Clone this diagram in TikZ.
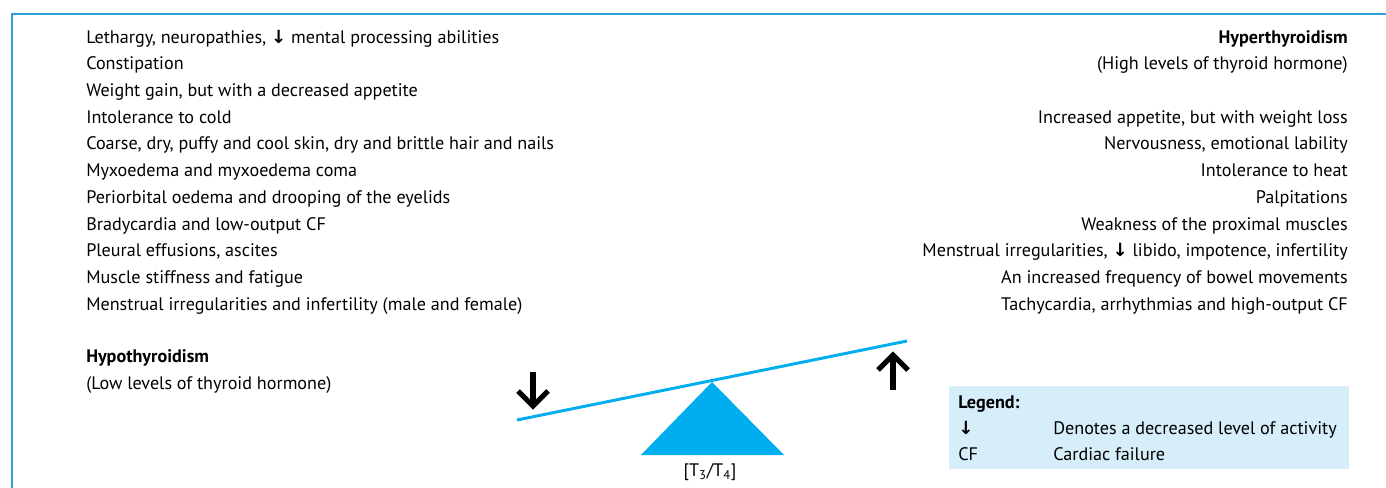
\documentclass[tikz,border=0pt]{standalone}
\usepackage{fontspec}
\setmainfont{PT Sans}
\newfontfamily\arrowfont{DejaVu Sans}
\usepackage{xcolor}
\usetikzlibrary{positioning}

\definecolor{seesawblue}{HTML}{00AEEF}
\definecolor{framblue}{HTML}{2A9FD8}
\definecolor{legendfill}{HTML}{D5EEF9}
\newcommand{\dnarrow}{{\arrowfont\bfseries ↓}}

\begin{document}
\begin{tikzpicture}[
    x=0.75pt, y=-0.75pt,
    every node/.style={inner sep=0pt, font=\fontsize{13.6}{16}\selectfont},
    hypo/.style={anchor=base west},
    hyper/.style={anchor=base east},
    heading/.style={font=\fontsize{13.6}{16}\selectfont\bfseries},
    beam/.style={seesawblue, line width=2.2pt},
    bigarrow/.style={line width=3.8pt, line cap=butt, line join=miter}
]
\useasboundingbox (0,0) rectangle (1386,488);
\draw[framblue, line width=1.1pt] (12,488) -- (12,14) -- (1386,14);

% hypothyroidism
\node[hypo] (lo1) at (86,43.2) {Lethargy, neuropathies, \dnarrow{} mental processing abilities};
\node[hypo] (lo2) at (86,69.9) {Constipation};
\node[hypo] (lo3) at (86,96.6) {Weight gain, but with a decreased appetite};
\node[hypo] (lo4) at (86,123.3) {Intolerance to cold};
\node[hypo] (lo5) at (86,150) {Coarse, dry, puffy and cool skin, dry and brittle hair and nails};
\node[hypo] (lo6) at (86,176.7) {Myxoedema and myxoedema coma};
\node[hypo] (lo7) at (86,203.4) {Periorbital oedema and drooping of the eyelids};
\node[hypo] (lo8) at (86,230.1) {Bradycardia and low-output CF};
\node[hypo] (lo9) at (86,256.8) {Pleural effusions, ascites};
\node[hypo] (lo10) at (86,283.5) {Muscle stiffness and fatigue};
\node[hypo] (lo11) at (86,310.2) {Menstrual irregularities and infertility (male and female)};
\node[hypo, heading] (lotitle) at (86,363) {Hypothyroidism};
\node[hypo] (losub) at (86,389.7) {(Low levels of thyroid hormone)};

% hyperthyroidism
\node[hyper, heading] (hititle) at (1348,43.2) {Hyperthyroidism};
\node[hyper] (hisub) at (1348,69.9) {(High levels of thyroid hormone)};
\node[hyper] (hi1) at (1348,123.3) {Increased appetite, but with weight loss};
\node[hyper] (hi2) at (1348,150) {Nervousness, emotional lability};
\node[hyper] (hi3) at (1348,176.7) {Intolerance to heat};
\node[hyper] (hi4) at (1348,203.4) {Palpitations};
\node[hyper] (hi5) at (1348,230.1) {Weakness of the proximal muscles};
\node[hyper] (hi6) at (1348,256.8) {Menstrual irregularities, \dnarrow{} libido, impotence, infertility};
\node[hyper] (hi7) at (1348,283.5) {An increased frequency of bowel movements};
\node[hyper] (hi8) at (1348,310.2) {Tachycardia, arrhythmias and high-output CF};

% seesaw
\fill[seesawblue] (712,382) -- (641,455) -- (784,455) -- cycle;
\coordinate (beamL) at (517,420);
\coordinate (beamR) at (907,341);
\draw[beam] (beamL) -- (beamR);
\node[anchor=base] (ratio) at (710,476.5) {[T\textsubscript{3}/T\textsubscript{4}]};
\draw[bigarrow] (533,372) -- (533,405);
\draw[bigarrow] (518,391) -- (533,406) -- (548,391);
\draw[bigarrow] (893,390) -- (893,356);
\draw[bigarrow] (878,370) -- (893,355) -- (908,370);

% legend
\fill[legendfill] (949,386) rectangle (1349,469);
\node[hypo, heading] (legtitle) at (958,408.5) {Legend:};
\node[hypo] (legsym1) at (958,434.8) {\dnarrow};
\node[hypo] (legtxt1) at (1053,434.8) {Denotes a decreased level of activity};
\node[hypo] (legsym2) at (958,460.5) {CF};
\node[hypo] (legtxt2) at (1053,460.5) {Cardiac failure};
\end{tikzpicture}
\end{document}
